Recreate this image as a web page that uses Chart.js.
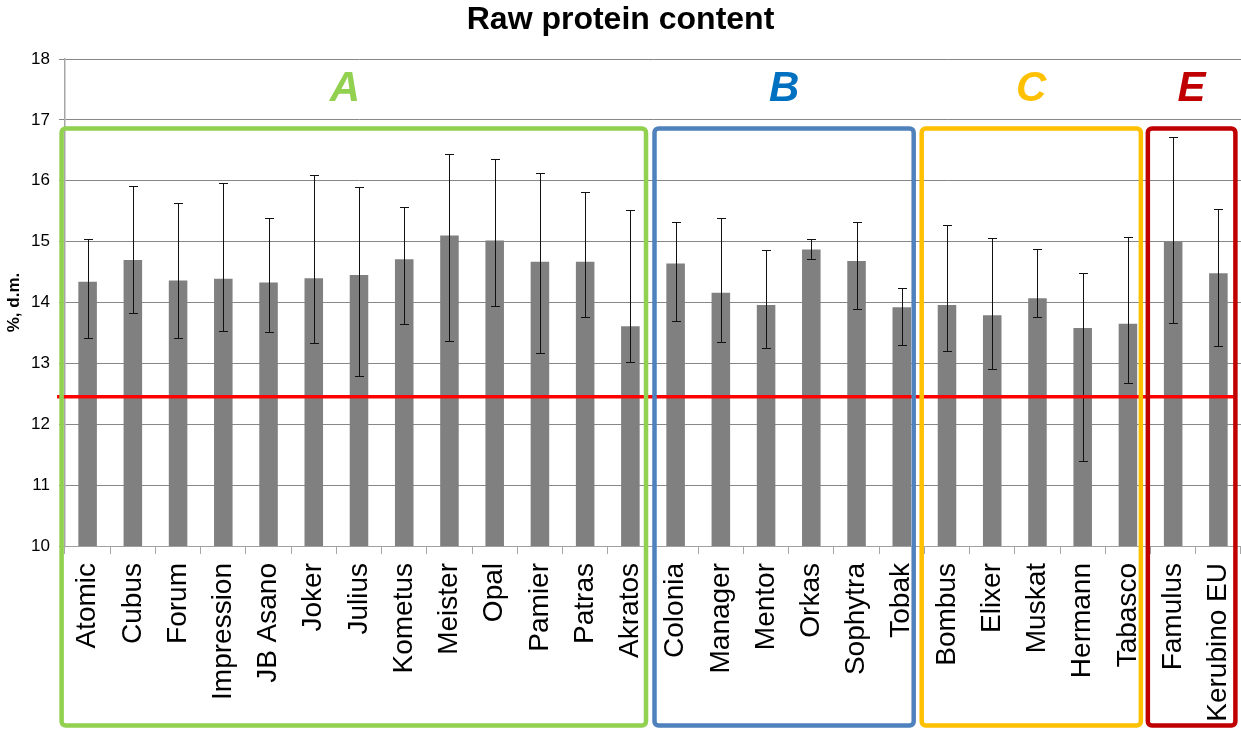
<!DOCTYPE html>
<html>
<head>
<meta charset="utf-8">
<script src="https://cdn.jsdelivr.net/npm/chart.js@4.4.1/dist/chart.umd.min.js"></script>
<style>
  html, body { margin: 0; padding: 0; background: #ffffff; }
  #c { display: block; }
</style>
</head>
<body>
<canvas id="c" width="1241" height="729"></canvas>
<script>
// Winter wheat varieties, raw protein content (% of dry matter)
const varieties = [
  'Atomic', 'Cubus', 'Forum', 'Impression', 'JB Asano', 'Joker', 'Julius',
  'Kometus', 'Meister', 'Opal', 'Pamier', 'Patras', 'Akratos',
  'Colonia', 'Manager', 'Mentor', 'Orkas', 'Sophytra', 'Tobak',
  'Bombus', 'Elixer', 'Muskat', 'Hermann', 'Tabasco',
  'Famulus', 'Kerubino EU'
];
const meanProtein = [
  14.34, 14.70, 14.36, 14.39, 14.33, 14.40, 14.45,
  14.71, 15.10, 15.02, 14.67, 14.67, 13.61,
  14.64, 14.16, 13.96, 14.87, 14.68, 13.92,
  13.96, 13.79, 14.07, 13.58, 13.65,
  15.00, 14.48
];
const rangeHigh = [
  15.05, 15.91, 15.64, 15.96, 15.38, 16.09, 15.89,
  15.57, 16.44, 16.36, 16.13, 15.82, 15.52,
  15.33, 15.39, 14.86, 15.05, 15.32, 14.24,
  15.28, 15.06, 14.88, 14.49, 15.07,
  16.72, 15.53
];
const rangeLow = [
  13.42, 13.82, 13.42, 13.53, 13.51, 13.33, 12.79,
  13.65, 13.36, 13.95, 13.17, 13.77, 13.03,
  13.70, 13.35, 13.26, 14.72, 13.89, 13.30,
  13.20, 12.90, 13.76, 11.39, 12.67,
  13.67, 13.28
];
// Quality groups (first and last variety index of each)
const groupNames = ['A', 'B', 'C', 'E'];
const groupFirst = [0, 13, 19, 24];
const groupLast = [12, 18, 23, 25];
// Reference protein level
const referenceLevel = 12.45;
// Y axis range
const yMin = 10;
const yMax = 18;

// Drawing styles for the group frames and letters
const groupStyle = {
  frame: ['#92D050', '#4F81BD', '#FFC000', '#C00000'],
  letter: ['#92D050', '#0070C0', '#FFC000', '#C00000'],
  insetLeft: [-3.4, 1.5, -2.7, -2.7],
  insetRight: [-7, -10.7, -9.7, -5.6],
  letterShift: [-9, 0, 0, 0],
  frameTopValue: 16.86,
  letterValue: 17.5
};

const FONT = '"Liberation Sans", Arial, sans-serif';

const overlays = {
  id: 'overlays',
  afterDatasetsDraw(chart) {
    const { ctx, chartArea, scales: { x, y } } = chart;
    const meta = chart.getDatasetMeta(0);

    // error bars
    ctx.save();
    ctx.strokeStyle = '#111111';
    ctx.lineWidth = 1;
    meta.data.forEach((bar, i) => {
      const px = Math.round(bar.x) + 0.5;
      const yt = Math.round(y.getPixelForValue(rangeHigh[i])) + 0.5;
      const yb = Math.round(y.getPixelForValue(rangeLow[i])) + 0.5;
      ctx.beginPath();
      ctx.moveTo(px, yt); ctx.lineTo(px, yb);
      ctx.moveTo(px - 4.5, yt); ctx.lineTo(px + 4.5, yt);
      ctx.moveTo(px - 4.5, yb); ctx.lineTo(px + 4.5, yb);
      ctx.stroke();
    });
    ctx.restore();

    // reference line
    ctx.save();
    const ry = y.getPixelForValue(referenceLevel);
    ctx.strokeStyle = '#FF0000';
    ctx.lineWidth = 3.5;
    ctx.beginPath();
    ctx.moveTo(chartArea.left - 8, ry);
    ctx.lineTo(chartArea.right - 5, ry);
    ctx.stroke();
    ctx.restore();

    // group frames and letters
    const catW = x.width / varieties.length;
    ctx.save();
    groupNames.forEach((name, g) => {
      const left = x.getPixelForValue(groupFirst[g]) - catW / 2 + groupStyle.insetLeft[g];
      const right = x.getPixelForValue(groupLast[g]) + catW / 2 + groupStyle.insetRight[g];
      const top = y.getPixelForValue(groupStyle.frameTopValue);
      const bottom = chart.height - 3.5;
      ctx.strokeStyle = groupStyle.frame[g];
      ctx.lineWidth = 4.5;
      ctx.lineJoin = 'round';
      ctx.beginPath();
      ctx.roundRect(left, top, right - left, bottom - top, 4);
      ctx.stroke();

      ctx.fillStyle = groupStyle.letter[g];
      ctx.font = 'italic bold 42px ' + FONT;
      ctx.textAlign = 'center';
      ctx.textBaseline = 'middle';
      ctx.fillText(name, (left + right) / 2 + groupStyle.letterShift[g], y.getPixelForValue(groupStyle.letterValue));
    });
    ctx.restore();
  }
};

new Chart(document.getElementById('c'), {
  type: 'bar',
  data: {
    labels: varieties,
    datasets: [{
      data: meanProtein,
      backgroundColor: '#808080',
      borderWidth: 0,
      categoryPercentage: 1,
      barPercentage: 0.41
    }]
  },
  options: {
    responsive: false,
    animation: false,
    devicePixelRatio: 1,
    layout: { padding: { left: 0, right: 0, top: 0, bottom: 0 } },
    plugins: {
      legend: { display: false },
      tooltip: { enabled: false },
      title: {
        display: true,
        text: 'Raw protein content',
        color: '#000000',
        font: { family: FONT, size: 32, weight: 'bold', lineHeight: 1.2 },
        padding: { top: 1, bottom: 19.6 }
      }
    },
    scales: {
      x: {
        offset: true,
        grid: {
          offset: true,
          drawOnChartArea: false,
          drawTicks: true,
          tickLength: 8,
          color: '#a6a6a6'
        },
        border: { display: true, color: '#a0a0a0', width: 1 },
        ticks: {
          autoSkip: false,
          minRotation: 90,
          maxRotation: 90,
          padding: 9,
          color: '#000000',
          font: { family: FONT, size: 28 }
        },
        afterFit(scale) {
          scale.height = 183;
          scale.paddingLeft = 0;
          scale.paddingRight = 0;
        }
      },
      y: {
        min: yMin,
        max: yMax,
        grid: {
          color: '#878787',
          lineWidth: 1,
          tickLength: 6
        },
        border: { display: true, color: '#a6a6a6', width: 1.5 },
        ticks: {
          stepSize: 1,
          padding: 9,
          color: '#000000',
          font: { family: FONT, size: 17 }
        },
        title: {
          display: true,
          text: '%, d.m.',
          color: '#000000',
          font: { family: FONT, size: 17, weight: 'bold' },
          padding: { top: 4, bottom: 0 }
        },
        afterFit(scale) {
          scale.width = 65;
        }
      }
    }
  },
  plugins: [overlays]
});
</script>
</body>
</html>
